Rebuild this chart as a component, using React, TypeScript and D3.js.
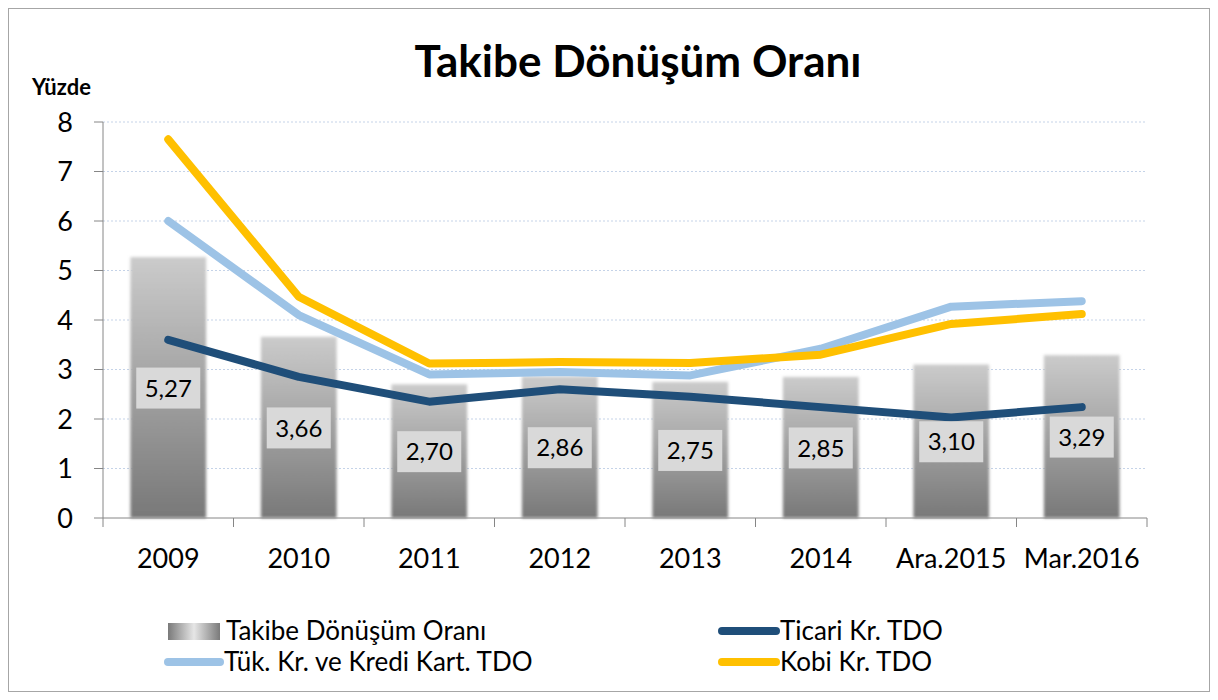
import React from "react";
import * as d3 from "d3";

const categories = ["2009", "2010", "2011", "2012", "2013", "2014", "Ara.2015", "Mar.2016"];
const barValues = [5.27, 3.66, 2.7, 2.86, 2.75, 2.85, 3.1, 3.29];
const barLabels = ["5,27", "3,66", "2,70", "2,86", "2,75", "2,85", "3,10", "3,29"];
const ticari = [3.6, 2.85, 2.35, 2.6, 2.45, 2.24, 2.03, 2.24];
const tuketici = [6.0, 4.1, 2.9, 2.95, 2.88, 3.42, 4.27, 4.38];
const kobi = [7.65, 4.47, 3.12, 3.15, 3.13, 3.3, 3.92, 4.12];
const yTicks = [0, 1, 2, 3, 4, 5, 6, 7, 8];

const FONT = "Lato, 'Open Sans', sans-serif";

export default function App() {
  const W = 1218, H = 700;
  const left = 103, right = 1147, top = 122, bottom = 518;
  const x = d3.scaleBand<string>().domain(categories).range([left, right]).paddingInner(0.42).paddingOuter(0.21);
  const xc = d3.scaleBand<string>().domain(categories).range([left, right]);
  const y = d3.scaleLinear().domain([0, 8]).range([bottom, top]);
  const line = d3.line<number>().x((_, i) => (xc(categories[i]) as number) + xc.bandwidth() / 2).y((d) => y(d));

  const series = [
    { name: "Tük. Kr. ve Kredi Kart. TDO", values: tuketici, color: "#9DC3E6" },
    { name: "Kobi Kr. TDO", values: kobi, color: "#FFC000" },
    { name: "Ticari Kr. TDO", values: ticari, color: "#1F4E79" },
  ];

  return (
    <svg width={W} height={H} style={{ display: "block", position: "absolute", left: 0, top: 0 }} fontFamily={FONT}>
      <defs>
        <linearGradient id="barGrad" x1="0" y1="0" x2="0" y2="1">
          <stop offset="0%" stopColor="#cbcbcb" />
          <stop offset="100%" stopColor="#787878" />
        </linearGradient>
        <linearGradient id="legGrad" x1="0" y1="0" x2="1" y2="0">
          <stop offset="0%" stopColor="#7a7a7a" />
          <stop offset="50%" stopColor="#e6e6e6" />
          <stop offset="100%" stopColor="#7a7a7a" />
        </linearGradient>
        <filter id="soft" x="-10%" y="-10%" width="120%" height="120%">
          <feGaussianBlur stdDeviation="1.5" />
        </filter>
      </defs>
      <rect x={0} y={0} width={W} height={H} fill="#fff" />
      <rect x={8.5} y={8.5} width={1201} height={683} fill="none" stroke="#a6a6a6" strokeWidth={1} />

      <text x={638} y={77} textAnchor="middle" fontSize={44} fontWeight="bold" fill="#000">Takibe Dönüşüm Oranı</text>
      <text x={32} y={95} fontSize={22} fontWeight="bold" fill="#000">Yüzde</text>

      {yTicks.map((t) => (
        <g key={t}>
          {t > 0 && (
            <line x1={left} x2={right} y1={y(t)} y2={y(t)} stroke="#c5d3e8" strokeWidth={1} strokeDasharray="2,2" />
          )}
          <line x1={left - 9} x2={left} y1={y(t)} y2={y(t)} stroke="#868686" />
          <text x={73} y={y(t)} dy="0.36em" textAnchor="end" fontSize={27} fill="#000">{t}</text>
        </g>
      ))}

      {categories.map((c, i) => (
        <rect key={c} x={x(c)} y={y(barValues[i])} width={x.bandwidth()} height={bottom - y(barValues[i])} fill="url(#barGrad)" filter="url(#soft)" />
      ))}

      <line x1={left} x2={left} y1={top} y2={bottom} stroke="#868686" />
      <line x1={left} x2={right} y1={bottom} y2={bottom} stroke="#868686" />
      {[...categories, null].map((c, i) => {
        const px = left + i * xc.bandwidth();
        return <line key={i} x1={px} x2={px} y1={bottom} y2={bottom + 9} stroke="#868686" />;
      })}
      {categories.map((c) => (
        <text key={c} x={(xc(c) as number) + xc.bandwidth() / 2} y={568} textAnchor="middle" fontSize={27} fill="#000">{c}</text>
      ))}

      {series.map((s) => (
        <path key={s.name} d={line(s.values) || ""} fill="none" stroke={s.color} strokeWidth={8} strokeLinecap="round" strokeLinejoin="round" />
      ))}

      {categories.map((c, i) => {
        const cx = (xc(c) as number) + xc.bandwidth() / 2;
        const cy = (y(barValues[i]) + bottom) / 2;
        return (
          <g key={c}>
            <rect x={cx - 32} y={cy - 20} width={64} height={41} fill="#d9d9d9" />
            <text x={cx} y={cy} dy="0.38em" textAnchor="middle" fontSize={24} fill="#000">{barLabels[i]}</text>
          </g>
        );
      })}

      <g fontSize={26} fill="#000">
        <rect x={168} y={623} width={52} height={17} fill="url(#legGrad)" />
        <text x={226} y={631} dy="0.36em">Takibe Dönüşüm Oranı</text>
        <line x1={168} x2={220} y1={662} y2={662} stroke="#9DC3E6" strokeWidth={8} strokeLinecap="round" />
        <text x={224} y={662} dy="0.36em">Tük. Kr. ve Kredi Kart. TDO</text>
        <line x1={722} x2={776} y1={631} y2={631} stroke="#1F4E79" strokeWidth={8} strokeLinecap="round" />
        <text x={780} y={631} dy="0.36em">Ticari Kr. TDO</text>
        <line x1={722} x2={776} y1={662} y2={662} stroke="#FFC000" strokeWidth={8} strokeLinecap="round" />
        <text x={780} y={662} dy="0.36em">Kobi Kr. TDO</text>
      </g>
    </svg>
  );
}
